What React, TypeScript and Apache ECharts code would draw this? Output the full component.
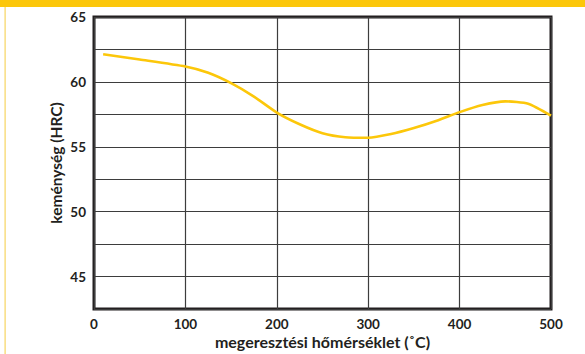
import React, { useEffect, useRef } from "react";
import * as echarts from "echarts";

const temperatures = [10, 50, 100, 125, 150, 175, 200, 225, 250, 275, 300, 325, 350, 375, 400, 425, 450, 475, 500];
const hardness = [62.13, 61.72, 61.18, 60.7, 59.9, 58.87, 57.64, 56.74, 56.05, 55.74, 55.7, 55.98, 56.44, 57.0, 57.67, 58.22, 58.5, 58.32, 57.4];
const yLabelValues = [45, 50, 55, 60, 65];
const xAxisName = "megeresztési hőmérséklet (˚C)";
const yAxisName = "keménység (HRC)";

const FONT = "Lato, 'Open Sans', sans-serif";
const INK = "#231f20";
const YELLOW = "#fcc70a";

export default function App() {
  const ref = useRef<HTMLDivElement>(null);
  useEffect(() => {
    if (!ref.current) return;
    const chart = echarts.init(ref.current, undefined, { renderer: "svg" });
    chart.setOption({
      animation: false,
      backgroundColor: "#ffffff",
      graphic: [
        { type: "rect", shape: { x: 0, y: 0, width: 585, height: 7 }, style: { fill: YELLOW }, silent: true },
        { type: "rect", shape: { x: 4.5, y: 7, width: 1.2, height: 347 }, style: { fill: "#f7d560" }, silent: true },
      ],
      grid: {
        left: 94,
        right: 34,
        top: 17,
        bottom: 45,
        show: true,
        borderColor: INK,
        borderWidth: 3,
        containLabel: false,
      },
      xAxis: {
        type: "value",
        min: 0,
        max: 500,
        interval: 100,
        name: xAxisName,
        nameLocation: "middle",
        nameGap: 24,
        nameMoveOverlap: false,
        nameTextStyle: { fontFamily: FONT, fontWeight: "bold", fontSize: 16, color: INK, verticalAlign: "top" },
        axisLine: { show: false },
        axisTick: { show: false },
        axisLabel: { fontFamily: FONT, fontWeight: "bold", fontSize: 13.5, color: INK, margin: 8 },
        splitLine: { show: true, lineStyle: { color: "#3d3d3d", width: 1.2 } },
      },
      yAxis: {
        type: "value",
        min: 42.5,
        max: 65,
        interval: 2.5,
        name: yAxisName,
        nameLocation: "middle",
        nameGap: 30,
        nameMoveOverlap: false,
        nameTextStyle: { fontFamily: FONT, fontWeight: "bold", fontSize: 15.5, color: INK, verticalAlign: "bottom" },
        axisLine: { show: false },
        axisTick: { show: false },
        axisLabel: {
          fontFamily: FONT,
          fontWeight: "bold",
          fontSize: 13.5,
          color: INK,
          margin: 8,
          formatter: (v: number) => (yLabelValues.includes(v) ? String(v) : ""),
        },
        splitLine: { show: true, lineStyle: { color: "#3d3d3d", width: 1.2 } },
      },
      series: [
        {
          type: "line",
          data: temperatures.map((t, i) => [t, hardness[i]]),
          smooth: 0.2,
          symbol: "none",
          lineStyle: { color: YELLOW, width: 2.6 },
        },
      ],
    });
    return () => chart.dispose();
  }, []);
  return <div ref={ref} style={{ position: "fixed", left: 0, top: 0, width: 585, height: 354 }} />;
}
